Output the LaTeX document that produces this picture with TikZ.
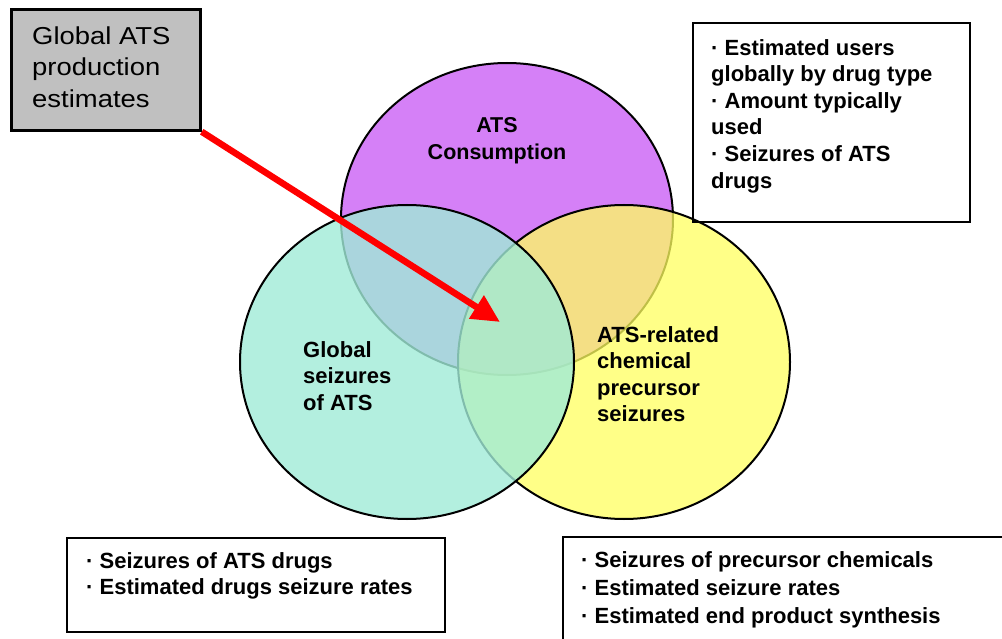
\documentclass[tikz,border=0pt]{standalone}
\usepackage{fontspec}
\setmainfont{Liberation Sans}
\newfontfamily\prodfont[FakeStretch=1.12]{Liberation Sans}
\usetikzlibrary{arrows.meta}
\definecolor{consum}{RGB}{213,128,247}
\definecolor{seiz}{RGB}{160,235,215}
\definecolor{precur}{RGB}{255,255,95}
\definecolor{prodgray}{RGB}{192,192,192}
\tikzset{
	venn/.style={
		draw=black, line width=2pt},
	infobox/.style={
		draw=black, line width=2.5pt, inner sep=0pt},
	infotext/.style={
		anchor=north west, inner sep=0pt, align=left,
		font=\bfseries\fontsize{22}{26.6}\selectfont}
}
\begin{document}
\begin{tikzpicture}[x=1pt,y=1pt,yscale=-1,xscale=1]
\useasboundingbox (0,0) rectangle (1002,639);

%circles
\draw [venn, fill=consum] (507,219) ellipse [x radius=166, y radius=156];
\draw [venn, fill=precur, fill opacity=0.75] (624,362) ellipse [x radius=166, y radius=157];
\draw [venn, fill=seiz, fill opacity=0.8] (407,362) ellipse [x radius=167, y radius=157];

\draw (497,117.5) node (consumtxt) [infotext, anchor=north, align=center, font=\bfseries\fontsize{21.5}{27}\selectfont] {ATS\\Consumption};
\draw (303,341) node (seiztxt) [infotext] {Global\\seizures\\of ATS};
\draw (597,326) node (precurtxt) [infotext] {ATS-related\\chemical\\precursor\\seizures};

%boxes
\draw (106,70) node (prod) [infobox, fill=prodgray, minimum width=189pt, minimum height=121pt] {};
\draw (32,26.4) node (prodtxt) [anchor=north west, inner sep=0pt, align=left, font=\prodfont\fontsize{24.5}{31.5}\selectfont] {Global ATS\\production\\estimates};

\draw (831.5,122.5) node (users) [infobox, minimum width=277pt, minimum height=199pt] {};
\draw (711,39) node (userstxt) [infotext] {· Estimated users\\globally by drug type\\· Amount typically\\used\\· Seizures of ATS\\drugs};

\draw (256,585) node (drugs) [infobox, minimum width=378pt, minimum height=94pt] {};
\draw (86,552) node (drugstxt) [infotext] {· Seizures of ATS drugs\\· Estimated drugs seizure rates};

\draw (790,595) node (chem) [infobox, minimum width=454pt, minimum height=116pt] {};
\draw (581,551) node (chemtxt) [infotext, font=\bfseries\fontsize{22}{28}\selectfont] {· Seizures of precursor chemicals\\· Estimated seizure rates\\· Estimated end product synthesis};

%arrow
\coordinate (target) at (500,322);
\draw [red, line width=6.5pt, -{Triangle[length=28pt,width=26pt]}] (prod.south east) -- (target);

\end{tikzpicture}
\end{document}
